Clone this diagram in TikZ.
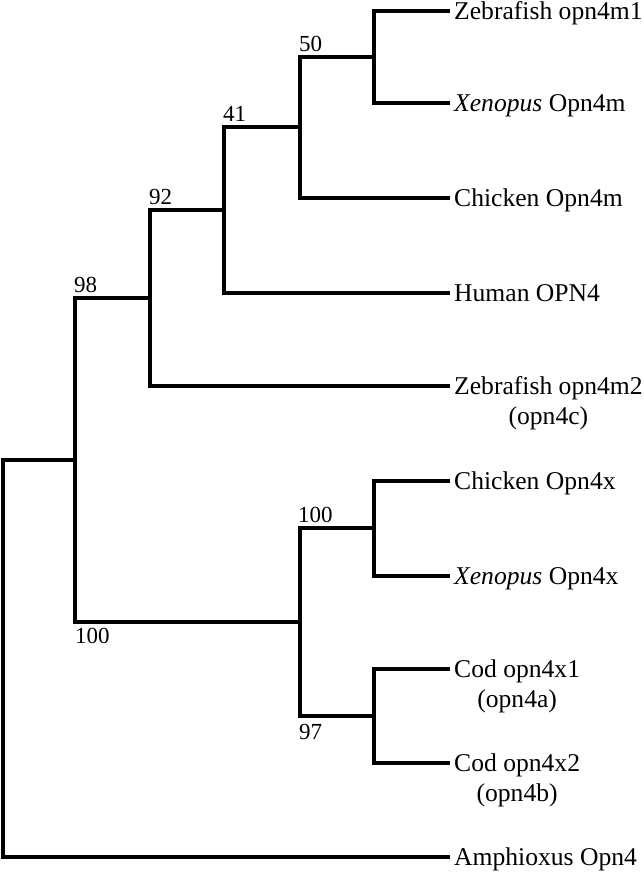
\documentclass[tikz,border=0pt]{standalone}
\usepackage{fontspec}
\setmainfont{Liberation Serif}
\begin{document}
\begin{tikzpicture}[x=1pt,y=-1pt,
  branch/.style={line width=3.1pt, line join=miter},
  leaf/.style={anchor=base west, inner xsep=4pt, inner ysep=0pt, text height=16pt, text depth=0pt, font=\fontsize{25.6}{30}\selectfont},
  leafsub/.style={anchor=base, inner sep=0pt, font=\fontsize{25.6}{30}\selectfont},
  boot/.style={anchor=base west, inner sep=0pt, font=\fontsize{23}{26}\selectfont}]
\useasboundingbox (0,0) rectangle (644,873);
% leaves
\node[leaf] (zf1) at (450,19) {Zebrafish opn4m1};
\node[leaf] (xm) at (450,111) {\textit{Xenopus} Opn4m};
\node[leaf] (chm) at (450,206) {Chicken Opn4m};
\node[leaf] (hum) at (450,301) {Human OPN4};
\node[leaf] (zf2) at (450,394) {Zebrafish opn4m2};
\node[leafsub] (zf2b) at ([yshift=-30pt]zf2.base) {(opn4c)};
\node[leaf] (chx) at (450,489) {Chicken Opn4x};
\node[leaf] (xx) at (450,584) {\textit{Xenopus} Opn4x};
\node[leaf] (cod1) at (450,677) {Cod opn4x1};
\node[leafsub] (cod1b) at ([yshift=-30pt]cod1.base) {(opn4a)};
\node[leaf] (cod2) at (450,771) {Cod opn4x2};
\node[leafsub] (cod2b) at ([yshift=-30pt]cod2.base) {(opn4b)};
\node[leaf] (amph) at (450,865) {Amphioxus Opn4};
% internal nodes
\coordinate (a) at (374,57);
\coordinate (b) at (300,127);
\coordinate (c) at (224,210);
\coordinate (d) at (150,298);
\coordinate (e) at (374,528);
\coordinate (f) at (374,716);
\coordinate (g) at (300,622);
\coordinate (h) at (75,460);
\coordinate (r) at (3,658);
% branches
\draw[branch] (a) |- (zf1.west);
\draw[branch] (a) |- (xm.west);
\draw[branch] (b) |- (a);
\draw[branch] (b) |- (chm.west);
\draw[branch] (c) |- (b);
\draw[branch] (c) |- (hum.west);
\draw[branch] (d) |- (c);
\draw[branch] (d) |- (zf2.west);
\draw[branch] (e) |- (chx.west);
\draw[branch] (e) |- (xx.west);
\draw[branch] (f) |- (cod1.west);
\draw[branch] (f) |- (cod2.west);
\draw[branch] (g) |- (e);
\draw[branch] (g) |- (f);
\draw[branch] (h) |- (d);
\draw[branch] (h) |- (g);
\draw[branch] (r) |- (h);
\draw[branch] (r) |- (amph.west);
% bootstrap values
\node[boot] (l50) at (299,51) {50};
\node[boot] (l41) at (223,121) {41};
\node[boot] (l92) at (149,204) {92};
\node[boot] (l98) at (74,292) {98};
\node[boot] (l100a) at (298,522) {100};
\node[boot] (l100b) at (75,643) {100};
\node[boot] (l97) at (299,739) {97};
\end{tikzpicture}
\end{document}
